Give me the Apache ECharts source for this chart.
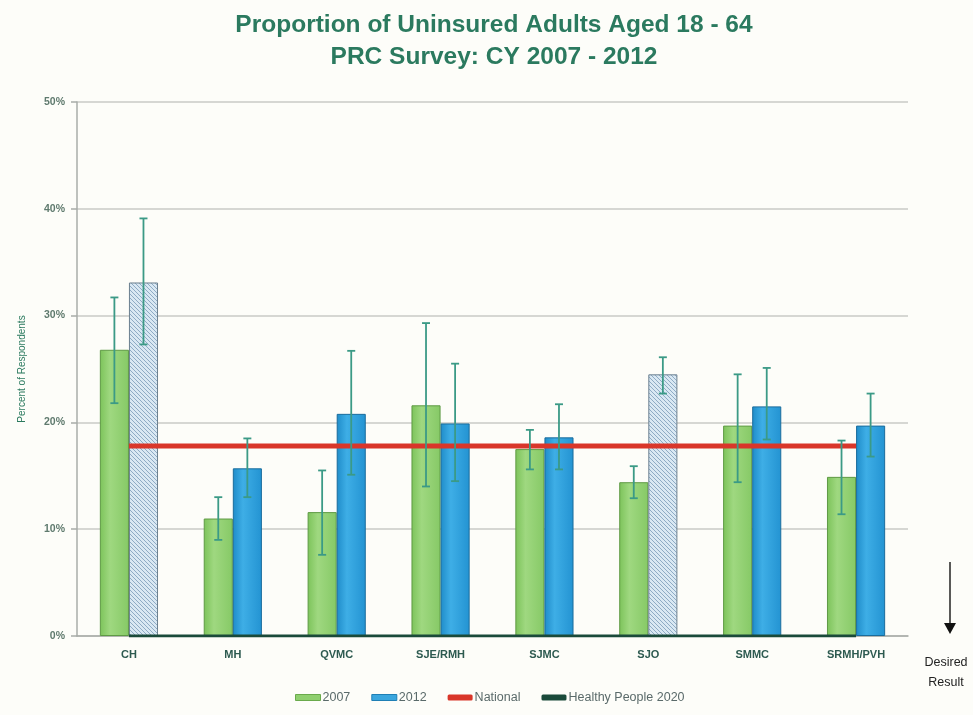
<!DOCTYPE html>
<html>
<head>
<meta charset="utf-8">
<script src="https://cdn.jsdelivr.net/npm/echarts@6/dist/echarts.min.js"></script>
<style>
html,body{margin:0;padding:0;background:#fdfdf9;}
#chart{width:973px;height:715px;}
</style>
</head>
<body>
<div id="chart"></div>
<script>
const categories = ['CH','MH','QVMC','SJE/RMH','SJMC','SJO','SMMC','SRMH/PVH'];
const values2007 = [26.8, 11.0, 11.6, 21.6, 17.5, 14.4, 19.7, 14.9];
const values2012 = [33.1, 15.7, 20.8, 19.9, 18.6, 24.5, 21.5, 19.7];
const low2007  = [21.8, 9.0, 7.6, 14.0, 15.6, 12.9, 14.4, 11.4];
const high2007 = [31.7, 13.0, 15.5, 29.3, 19.3, 15.9, 24.5, 18.3];
const low2012  = [27.3, 13.0, 15.1, 14.5, 15.6, 22.7, 18.4, 16.8];
const high2012 = [39.1, 18.5, 26.7, 25.5, 21.7, 26.1, 25.1, 22.7];
const hatched2012 = [true, false, false, false, false, true, false, false];
const national = [17.8, 17.8, 17.8, 17.8, 17.8, 17.8, 17.8, 17.8];
const healthyPeople = [0, 0, 0, 0, 0, 0, 0, 0];
const yTicks = [0, 10, 20, 30, 40, 50];

function hatchPattern(){
  const c = document.createElement('canvas');
  c.width = 4; c.height = 4;
  const ctx = c.getContext('2d');
  ctx.fillStyle = '#d9e8f3';
  ctx.fillRect(0,0,4,4);
  ctx.strokeStyle = '#8eabc4';
  ctx.lineWidth = 1;
  ctx.beginPath();
  ctx.moveTo(0,0); ctx.lineTo(4,4);
  ctx.moveTo(-2,2); ctx.lineTo(2,6);
  ctx.moveTo(2,-2); ctx.lineTo(6,2);
  ctx.stroke();
  return c;
}
const hatch = {image: hatchPattern(), repeat: 'repeat'};

const greenFill = new echarts.graphic.LinearGradient(0,0,1,0,[
  {offset:0,color:'#7cc35a'},{offset:0.35,color:'#9fd880'},{offset:1,color:'#86c966'}]);
const blueFill = new echarts.graphic.LinearGradient(0,0,1,0,[
  {offset:0,color:'#1f8cc9'},{offset:0.35,color:'#3eaee6'},{offset:1,color:'#2393d2'}]);

const chart = echarts.init(document.getElementById('chart'));

function errorSeries(lows, highs, side){
  return {
    type: 'custom',
    name: 'err' + side,
    z: 5,
    silent: true,
    data: categories.map((c,i)=>[i, lows[i], highs[i]]),
    renderItem: function(params, api){
      const idx = api.value(0);
      const lo = api.coord([idx, api.value(1)]);
      const hi = api.coord([idx, api.value(2)]);
      const band = api.size([1,0])[0];
      const x = lo[0] + side * band * 0.14;
      const cap = 4;
      const style = {stroke:'#3b9a86', lineWidth:1.8};
      return {type:'group', children:[
        {type:'line', shape:{x1:x,y1:lo[1],x2:x,y2:hi[1]}, style:style},
        {type:'line', shape:{x1:x-cap,y1:hi[1],x2:x+cap,y2:hi[1]}, style:style},
        {type:'line', shape:{x1:x-cap,y1:lo[1],x2:x+cap,y2:lo[1]}, style:style}
      ]};
    }
  };
}

const option = {
  backgroundColor: '#fdfdf9',
  animation: false,
  title: {
    text: 'Proportion of Uninsured Adults Aged 18 - 64\nPRC Survey: CY 2007 - 2012',
    left: 489, top: 4, textAlign: 'center',
    textStyle: {fontFamily:'Liberation Sans, Arial, sans-serif', fontWeight:'bold', fontSize:24.5, color:'#2b7a5f', lineHeight:32}
  },
  legend: {
    bottom: 6, left: 290, itemGap: 21, itemWidth: 25, itemHeight: 6,
    textStyle: {fontFamily:'Liberation Sans, Arial, sans-serif', fontSize:12.5, color:'#5a6a6a', padding:[0,0,0,-3]},
    data: [
      {name:'2007', icon:'rect', itemStyle:{color:'#8fcf6f', borderColor:'#6aaa4c', borderWidth:1}},
      {name:'2012', icon:'rect', itemStyle:{color:'#3aa6de', borderColor:'#1f7fb5', borderWidth:1}},
      {name:'National', icon:'roundRect', itemStyle:{color:'#d9362a'}},
      {name:'Healthy People 2020', icon:'roundRect', itemStyle:{color:'#1a4a3a'}}
    ]
  },
  grid: {left: 77, right: 65, top: 102, bottom: 79},
  xAxis: {
    type: 'category', data: categories,
    axisLine: {lineStyle:{color:'#a8aca8', width:1.5}},
    axisTick: {show:false},
    axisLabel: {fontFamily:'Liberation Sans, Arial, sans-serif', fontWeight:'bold', fontSize:11, color:'#2d5a50', margin:13}
  },
  yAxis: {
    type: 'value', min: 0, max: 50, interval: 10,
    name: 'Percent of Respondents', nameLocation: 'middle', nameGap: 50, nameRotate: 90,
    nameTextStyle: {fontFamily:'Liberation Sans, Arial, sans-serif', fontSize:10, color:'#2b7a5f'},
    axisLine: {show:true, lineStyle:{color:'#a8aca8', width:1.5}},
    axisTick: {show:true, length:6, lineStyle:{color:'#a8aca8', width:1.5}},
    axisLabel: {fontFamily:'Liberation Sans, Arial, sans-serif', fontWeight:'bold', fontSize:10.5, color:'#5f7a6e', margin:12,
      formatter: v => yTicks.includes(v) ? v + '%' : ''},
    splitLine: {lineStyle:{color:'#c8cac6', width:1.5}}
  },
  series: [
    {
      name: '2007', type: 'bar', barGap: '0%', barCategoryGap: '44%', z: 2,
      data: values2007,
      itemStyle: {color: greenFill, borderColor:'#5f9a45', borderWidth:1}
    },
    {
      name: '2012', type: 'bar', z: 2,
      data: values2012.map((v,i)=> hatched2012[i]
        ? {value:v, itemStyle:{color: hatch, borderColor:'#6b7f8f', borderWidth:1}}
        : v),
      itemStyle: {color: blueFill, borderColor:'#1a6c9c', borderWidth:1}
    },
    {
      name: 'National', type: 'line', data: national, z: 4,
      symbol: 'none', lineStyle: {color:'#d9362a', width:5}, itemStyle:{color:'#d9362a'}
    },
    {
      name: 'Healthy People 2020', type: 'line', data: healthyPeople, z: 4,
      symbol: 'none', lineStyle: {color:'#1a4a3a', width:3}, itemStyle:{color:'#1a4a3a'}
    },
    errorSeries(low2007, high2007, -1),
    errorSeries(low2012, high2012, 1)
  ],
  graphic: [
    {type:'line', shape:{x1:950,y1:562,x2:950,y2:624}, style:{stroke:'#222', lineWidth:1.5}},
    {type:'polygon', shape:{points:[[944,623],[956,623],[950,634]]}, style:{fill:'#111'}},
    {type:'text', x: 946, y: 653, style:{text:'Desired\nResult', fill:'#222', font:'12.5px Liberation Sans, Arial, sans-serif', lineHeight:20, align:'center'}}
  ]
};
chart.setOption(option);
</script>
</body>
</html>
